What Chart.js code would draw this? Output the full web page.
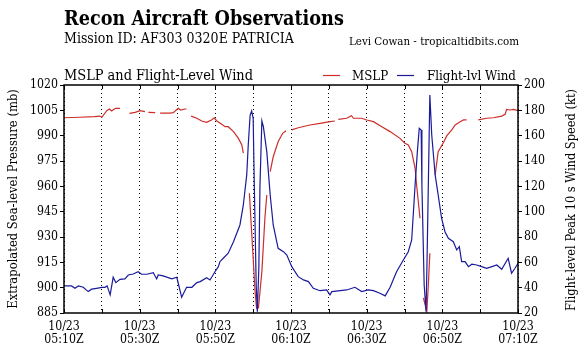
<!DOCTYPE html>
<html>
<head>
<meta charset="utf-8">
<script src="https://cdn.jsdelivr.net/npm/chart.js@4"></script>
<style>
  html, body { margin: 0; padding: 0; background: #fff; }
  #wrap { position: relative; width: 586px; height: 364px; }
</style>
</head>
<body>
<div id="wrap"><canvas id="recon" width="586" height="364"></canvas></div>
<script>
// ============================================================
// Recon obs chart — MSLP (left axis) + flight-level wind (right axis)
// x values are minutes after 05:10Z on 10/23; null = gap in MSLP trace
// ============================================================

var mslpMin = [0, 4.2, 8.0, 9.5, 10.0, 11.3, 12.0, 12.6, 13.3, 13.7, 14.8, 16.0,
  17.3, 18.8, 20.1, 21.4, 21.8,
  22.3, 24.1, 24.7,
  25.4, 28.0, 28.9, 30.2, 30.8, 32.0, 32.4, 33.0,
  33.6, 35.1, 36.4, 37.7, 39.0, 39.7, 40.4, 41.7, 42.6, 43.4, 44.8, 46.1, 47.0, 47.4, 48.2,
  49.0, 50.0, 50.5, 50.9, 51.4, 52.3, 53.1, 53.6, 54.0,
  54.5, 55.3, 56.6, 57.8, 58.7, 59.5,
  60.2, 61.9, 65.0, 67.7, 70.3, 71.6, 72.0,
  72.5, 74.7, 76.0, 76.5, 78.7, 80.0, 81.8, 84.0, 86.2, 88.8, 90.1, 91.0, 91.9, 92.8, 93.2, 94.1, 94.5,
  95.0, 95.9, 96.3, 96.7, 97.4,
  98.1, 98.9, 100.3, 101.2, 102.5, 103.4, 104.7, 105.6, 106.4, 108.0,
  109.5, 111.7, 113.5, 115.7, 116.6, 117.0, 117.9, 118.8, 120];

var mslpMb = [1000.6, 1000.9, 1001.3, 1001.6, 1000.9, 1004.8, 1005.8, 1004.6, 1005.8, 1006.2, 1006.2, null,
  1003.2, 1003.8, 1004.8, 1004.2, null,
  1003.8, 1003.6, null,
  1003.4, 1003.4, 1003.6, 1006.2, 1005.2, 1005.8, 1005.8, null,
  1001.6, 1000.3, 998.7, 997.9, 999.3, 1000.6, 998.7, 996.7, 995.3, 995.3, 992.4, 988.4, 984.5, 979.6, null,
  955.9, 917.4, 897.6, 887.8, 888.1, 909.5, 941.1, 954.9, null,
  968.7, 977.5, 986.4, 991.4, 992.9, null,
  993.4, 994.7, 996.3, 997.3, 998.3, 998.7, null,
  999.7, 1000.3, 1001.8, 1000.3, 1000.3, 999.3, 998.3, 995.3, 992.4, 988.4, 985.5, 984.5, 980.5, 970.7, 960.8, 941.1, null,
  893.9, 885.8, 901.6, 920.4, null,
  966.7, 980.5, 986.0, 990.0, 993.4, 996.3, 998.3, 999.3, 999.3, null,
  999.3, 1000.3, 1000.6, 1001.6, 1002.7, 1005.6, 1005.2, 1005.6, 1004.8];

var windMin = [0, 2.0, 2.9, 3.8, 5.1, 6.4, 7.3, 8.6, 10.0, 10.8, 11.4, 12.2, 13.0, 13.7, 14.8,
  16.1, 17.0, 18.3, 19.6, 20.5, 21.9, 23.6, 24.5, 24.9, 26.2, 28.5, 29.8, 30.2, 31.1, 32.4,
  33.8, 35.1, 36.0, 37.7, 38.6, 39.9, 40.8, 41.2, 42.1, 43.4, 44.8, 46.5, 47.4, 48.3, 48.7,
  49.2, 49.6, 50.0, 50.3, 50.8, 51.1, 51.5, 51.8, 52.3, 52.7, 53.6, 54.5, 55.3, 56.6, 58.0,
  58.9, 60.2, 61.9, 63.3, 64.6, 65.9, 67.7, 69.4, 70.3, 70.8, 73.0, 74.7, 76.9, 78.7, 80.4,
  81.8, 83.5, 84.9, 86.2, 87.9, 89.7, 91.0, 91.9, 92.8, 93.4, 93.9, 94.4, 94.6, 95.2, 95.7,
  96.0, 96.7, 97.2, 98.1, 98.9, 99.8, 100.7, 101.6, 102.9, 103.8, 104.5, 105.1, 106.0, 106.9, 107.8,
  109.1, 110.4, 111.7, 113.1, 114.4, 115.7, 117.4, 118.3, 119.2, 120];

var windKt = [41.4, 41.4, 39.5, 41.4, 40.3, 36.9, 38.8, 39.5, 40.3, 40.3, 41.4, 34.3, 48.2, 44.0, 46.6,
  46.9, 50.0, 50.8, 52.6, 50.6, 50.6, 51.9, 46.9, 50.0, 49.3, 46.9, 48.2, 43.5, 32.4, 40.3,
  40.3, 44.0, 44.8, 47.9, 46.1, 52.6, 56.6, 60.5, 63.2, 67.2, 76.3, 89.5, 105.3, 129.0, 152.6,
  176.3, 179.5, 173.7, 121.1, 42.1, 21.1, 55.3, 121.1, 171.6, 167.1, 147.4, 113.2, 89.5, 71.1, 68.4,
  65.8, 56.6, 48.7, 46.1, 44.8, 39.5, 37.6, 38.2, 34.3, 36.9, 37.6, 38.2, 40.3, 36.9, 38.2,
  37.6, 35.6, 33.5, 40.3, 52.6, 61.9, 68.4, 77.7, 121.1, 147.4, 165.8, 164.5, 121.1, 42.1, 21.1,
  68.4, 192.1, 160.5, 129.0, 113.2, 94.8, 84.2, 79.0, 76.3, 69.8, 72.4, 60.5, 60.5, 56.6, 58.5,
  57.9, 56.6, 55.3, 56.6, 57.9, 54.5, 63.2, 51.4, 55.3, 59.3];

var xTickDates = ['10/23', '10/23', '10/23', '10/23', '10/23', '10/23', '10/23'];
var xTickTimes = ['05:10Z', '05:30Z', '05:50Z', '06:10Z', '06:30Z', '06:50Z', '07:10Z'];

var RED = '#cc2e2a';
var BLUE = '#1a1a9c';
var FONT = "'DejaVu Serif Condensed', 'DejaVu Serif', serif";

// size fonts so text widths match the original
var mctx = document.createElement('canvas').getContext('2d');
function fitPx(text, weight, width) {
  mctx.font = weight + ' 100px ' + FONT;
  return 100 * width / mctx.measureText(text).width;
}
function fontStr(weight, px) { return weight + ' ' + px.toFixed(2) + 'px ' + FONT; }

var tickPx = fitPx('1020', 'normal', 28);
var leftTitle = 'Extrapolated Sea-level Pressure (mb)';
var rightTitle = 'Flight-level Peak 10 s Wind Speed (kt)';
var leftTitlePx = fitPx(leftTitle, 'normal', 220);
var rightTitlePx = fitPx(rightTitle, 'normal', 222);

function zip(xs, ys) {
  return xs.map(function(x, i) { return { x: x, y: ys[i] }; });
}

var headerPlugin = {
  id: 'header',
  afterDatasetsDraw: function(chart) {
    var ctx = chart.ctx, a = chart.chartArea, xs = chart.scales.x;
    ctx.save();
    // inward tick marks on top and bottom edges
    ctx.strokeStyle = '#000';
    ctx.lineWidth = 1;
    xs.ticks.forEach(function(t) {
      var px = Math.round(xs.getPixelForValue(t.value)) + 0.5;
      ctx.beginPath();
      ctx.moveTo(px, a.top); ctx.lineTo(px, a.top + 4);
      ctx.moveTo(px, a.bottom); ctx.lineTo(px, a.bottom - 4);
      ctx.stroke();
    });
    ctx.lineWidth = 1.5;
    ctx.strokeRect(a.left, a.top, a.right - a.left, a.bottom - a.top);
    ctx.restore();
  },
  afterDraw: function(chart) {
    var ctx = chart.ctx, a = chart.chartArea;
    ctx.save();
    ctx.fillStyle = '#000';
    ctx.textBaseline = 'alphabetic';
    ctx.textAlign = 'left';
    var t1 = 'Recon Aircraft Observations';
    ctx.font = fontStr('bold', fitPx(t1, 'bold', 280));
    ctx.fillText(t1, 64, 25);
    var t2 = 'Mission ID: AF303 0320E PATRICIA';
    ctx.font = fontStr('normal', fitPx(t2, 'normal', 230));
    ctx.fillText(t2, 64, 43);
    var t3 = 'Levi Cowan - tropicaltidbits.com';
    ctx.font = fontStr('normal', fitPx(t3, 'normal', 170));
    ctx.fillText(t3, 349, 45);
    var t4 = 'MSLP and Flight-Level Wind';
    ctx.font = fontStr('normal', fitPx(t4, 'normal', 189));
    ctx.fillText(t4, 64, 80);
    // legend
    ctx.font = fontStr('normal', fitPx('Flight-lvl Wind', 'normal', 89));
    ctx.fillText('MSLP', 352, 80);
    ctx.fillText('Flight-lvl Wind', 427, 80);
    ctx.lineWidth = 1.2;
    ctx.strokeStyle = RED;
    ctx.beginPath(); ctx.moveTo(323, 75.5); ctx.lineTo(340, 75.5); ctx.stroke();
    ctx.strokeStyle = BLUE;
    ctx.beginPath(); ctx.moveTo(397, 75.5); ctx.lineTo(414, 75.5); ctx.stroke();
    // right axis title, reading bottom-to-top like the left one
    ctx.font = fontStr('normal', rightTitlePx);
    ctx.textAlign = 'center';
    ctx.textBaseline = 'middle';
    ctx.translate(572, (a.top + a.bottom) / 2 + 1);
    ctx.rotate(-Math.PI / 2);
    ctx.fillText(rightTitle, 0, 0);
    ctx.restore();
  }
};

var tickFont = { family: FONT, size: tickPx, lineHeight: 1.1 };
function plainNum(v) { return String(v); }

new Chart(document.getElementById('recon'), {
  type: 'line',
  data: {
    datasets: [
      {
        label: 'Flight-lvl Wind',
        data: zip(windMin, windKt),
        yAxisID: 'yWind',
        borderColor: BLUE,
        borderWidth: 1.2,
        pointRadius: 0,
        tension: 0,
        order: 0
      },
      {
        label: 'MSLP',
        data: zip(mslpMin, mslpMb),
        yAxisID: 'yMslp',
        borderColor: RED,
        borderWidth: 1.2,
        pointRadius: 0,
        tension: 0,
        spanGaps: false,
        order: 1
      }
    ]
  },
  options: {
    responsive: false,
    animation: false,
    devicePixelRatio: 1,
    layout: { padding: { top: 85, left: 0, right: 0, bottom: 0 } },
    plugins: { legend: { display: false }, tooltip: { enabled: false } },
    scales: {
      x: {
        type: 'linear',
        min: 0, max: 120,
        afterFit: function(s) { s.height = 51; },
        ticks: {
          stepSize: 10, autoSkip: false, maxRotation: 0, padding: 7,
          color: '#000', font: tickFont,
          callback: function(v) {
            if (v % 20 !== 0) return '';
            var i = v / 20;
            return [xTickDates[i], xTickTimes[i]];
          }
        },
        grid: { color: '#000', lineWidth: 1, drawTicks: false },
        border: { display: false, dash: [1, 3] }
      },
      yMslp: {
        type: 'linear',
        position: 'left',
        min: 885, max: 1020,
        afterFit: function(s) { s.width = 64; },
        ticks: { stepSize: 15, padding: 2, color: '#000', font: tickFont, callback: plainNum },
        grid: { drawOnChartArea: false, tickLength: 4, color: '#000' },
        border: { display: false },
        title: {
          display: true, text: leftTitle, color: '#000',
          font: { family: FONT, size: leftTitlePx, lineHeight: 1.2 },
          padding: { top: 14 - leftTitlePx * 0.6, bottom: 0 }
        }
      },
      yWind: {
        type: 'linear',
        position: 'right',
        min: 20, max: 200,
        afterFit: function(s) { s.width = 68; },
        ticks: { stepSize: 20, padding: 2, color: '#000', font: tickFont, callback: plainNum },
        grid: { drawOnChartArea: false, tickLength: 4, color: '#000' },
        border: { display: false }
      }
    }
  },
  plugins: [headerPlugin]
});
</script>
</body>
</html>
